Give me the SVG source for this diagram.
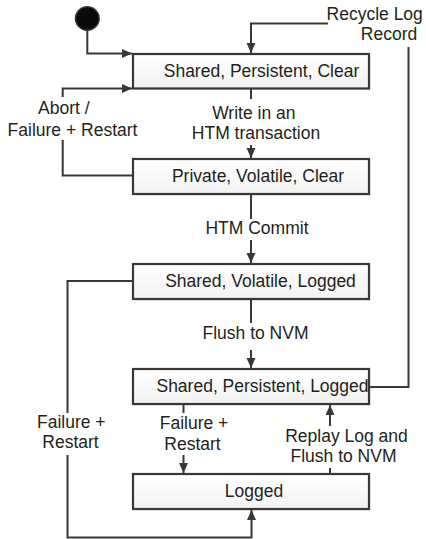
<svg xmlns="http://www.w3.org/2000/svg" width="426" height="539" viewBox="0 0 426 539">
  <defs>
    <linearGradient id="boxFill" x1="0" y1="0" x2="0" y2="1">
      <stop offset="0" stop-color="#ffffff"/>
      <stop offset="1" stop-color="#f2f2f2"/>
    </linearGradient>
    <marker id="arrow" markerUnits="userSpaceOnUse" markerWidth="11" markerHeight="10" refX="10" refY="4.5" orient="auto">
      <path d="M0,0 L10,4.5 L0,9 Z" fill="#3b3735"/>
    </marker>
    <style>
      .state rect.body { fill: url(#boxFill); stroke: #3b3735; stroke-width: 2.2; }
      .state rect.shadow { fill: #e6e6e6; }
      .state text, .label { font-family: "Liberation Sans", Arial, sans-serif; font-size: 17.5px; fill: #231f20; text-anchor: middle; }
      .conn path { fill: none; stroke: #3b3735; stroke-width: 2; }
    </style>
  </defs>
  <rect width="426" height="539" fill="#ffffff"/>

  <!-- initial pseudo-state -->
  <g id="start">
    <circle cx="87.3" cy="18.5" r="11.8" fill="#0a0a0a" stroke="#3b3735" stroke-width="1.5"/>
  </g>

  <!-- states -->
  <g id="shared-persistent-clear" class="state">
    <rect class="shadow" x="134.5" y="55.5" width="236" height="34.5"/>
    <rect class="body" x="133" y="54" width="236" height="34.5"/>
    <text x="261.5" y="77">Shared, Persistent, Clear</text>
  </g>
  <g id="private-volatile-clear" class="state">
    <rect class="shadow" x="134.5" y="160.5" width="236" height="35"/>
    <rect class="body" x="133" y="159" width="236" height="35"/>
    <text x="258" y="182">Private, Volatile, Clear</text>
  </g>
  <g id="shared-volatile-logged" class="state">
    <rect class="shadow" x="134.5" y="265.5" width="236" height="35"/>
    <rect class="body" x="133" y="264" width="236" height="35"/>
    <text x="260.5" y="287">Shared, Volatile, Logged</text>
  </g>
  <g id="shared-persistent-logged" class="state">
    <rect class="shadow" x="134.5" y="370.5" width="236" height="35"/>
    <rect class="body" x="133" y="369" width="236" height="35"/>
    <text x="262.5" y="392">Shared, Persistent, Logged</text>
  </g>
  <g id="logged" class="state">
    <rect class="shadow" x="134.5" y="475.5" width="236" height="35"/>
    <rect class="body" x="133" y="474" width="236" height="35"/>
    <text x="254" y="497">Logged</text>
  </g>

  <!-- transitions -->
  <g id="connectors" class="conn">
    <path d="M87.3,30 L87.3,53.5 L132,53.5" marker-end="url(#arrow)"/>
    <path d="M133,175.5 L62.7,175.5 L62.7,140"/>
    <path d="M62.7,97 L62.7,88.5 L132,88.5" marker-end="url(#arrow)"/>
    <path d="M251,88.5 L251,99"/>
    <path d="M251,145 L251,158" marker-end="url(#arrow)"/>
    <path d="M251,194 L251,219"/>
    <path d="M251,240 L251,263" marker-end="url(#arrow)"/>
    <path d="M251,299 L251,323"/>
    <path d="M251,350 L251,368" marker-end="url(#arrow)"/>
    <path d="M369,387 L408.5,387 L408.5,47"/>
    <path d="M328,23.5 L251,23.5 L251,53" marker-end="url(#arrow)"/>
    <path d="M133,281 L67.5,281 L67.5,413"/>
    <path d="M67.5,455 L67.5,537.5 L251.5,537.5 L251.5,510" marker-end="url(#arrow)"/>
    <path d="M183.5,404 L183.5,413"/>
    <path d="M183.5,455 L183.5,473" marker-end="url(#arrow)"/>
    <path d="M330,474 L330,468"/>
    <path d="M330,426 L330,405" marker-end="url(#arrow)"/>
  </g>

  <!-- transition labels -->
  <g id="labels">
    <text class="label" x="374.7" y="19.5">Recycle Log</text>
    <text class="label" x="389" y="39.5">Record</text>
    <text class="label" x="63.8" y="113.5">Abort /</text>
    <text class="label" x="72.5" y="135.5">Failure + Restart</text>
    <text class="label" x="253.8" y="118.5">Write in an</text>
    <text class="label" x="256" y="138.5">HTM transaction</text>
    <text class="label" x="257" y="233.5">HTM Commit</text>
    <text class="label" x="255.5" y="338.5">Flush to NVM</text>
    <text class="label" x="71.3" y="427.5">Failure +</text>
    <text class="label" x="70.5" y="447.5">Restart</text>
    <text class="label" x="194" y="428.5">Failure +</text>
    <text class="label" x="192.5" y="449.5">Restart</text>
    <text class="label" x="346.5" y="441.5">Replay Log and</text>
    <text class="label" x="343.5" y="461.5">Flush to NVM</text>
  </g>
</svg>
